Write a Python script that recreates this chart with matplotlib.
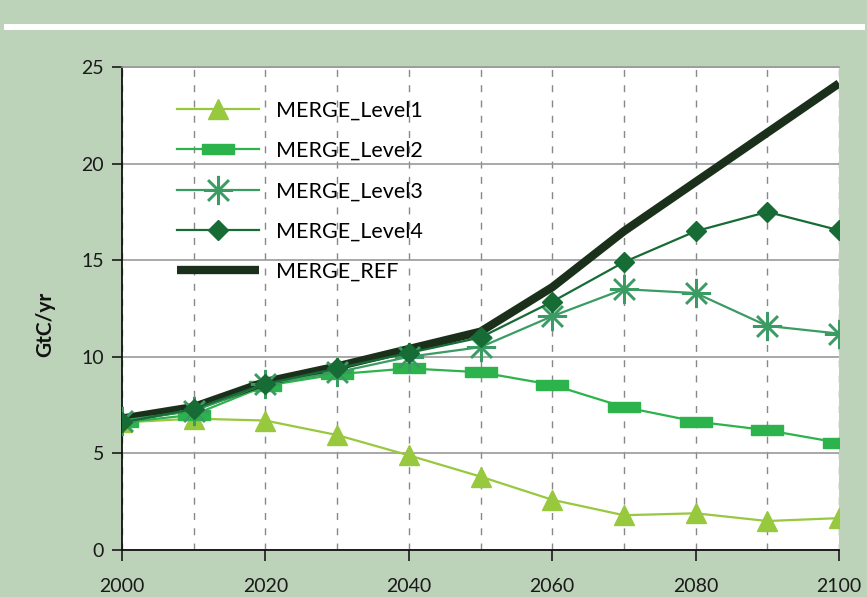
import numpy as np
import matplotlib.pyplot as plt
from matplotlib.ticker import MultipleLocator
from matplotlib.lines import Line2D

plt.rcParams['font.family'] = ['Lato', 'DejaVu Sans']

years = [2000, 2010, 2020, 2030, 2040, 2050, 2060, 2070, 2080, 2090, 2100]
level1 = [6.6, 6.8, 6.7, 5.95, 4.9, 3.8, 2.6, 1.8, 1.9, 1.5, 1.65]
level2 = [6.6, 7.0, 8.5, 9.1, 9.4, 9.2, 8.55, 7.4, 6.65, 6.2, 5.55]
level3 = [6.7, 7.2, 8.6, 9.2, 10.0, 10.5, 12.1, 13.5, 13.3, 11.6, 11.2]
level4 = [6.6, 7.3, 8.6, 9.4, 10.2, 11.0, 12.85, 14.9, 16.5, 17.5, 16.55]
ref = [6.8, 7.4, 8.7, 9.5, 10.4, 11.3, 13.6, 16.5, 19.05, 21.6, 24.15]

bg = '#bcd3b9'
c1 = '#98c83e'
c2 = '#2db34b'
c3 = '#3b9c63'
c4 = '#176b35'
cref = '#1b301b'

# wide flat rectangle for the Level2 markers
rect = [(-1.6, -0.5), (1.6, -0.5), (1.6, 0.5), (-1.6, 0.5), (-1.6, -0.5)]

fig = plt.figure(figsize=(8.67, 5.97), dpi=100, facecolor=bg)
fig.add_artist(Line2D([7/867, 862/867], [0.9553, 0.9553], color='white', lw=4.3,
                      transform=fig.transFigure))

ax = fig.add_axes([122/867, 47/597, 717/867, 483/597])
ax.set_facecolor('white')

l1, = ax.plot(years, level1, color=c1, lw=1.6, marker='^', ms=14, label='MERGE_Level1', zorder=3)
l2, = ax.plot(years, level2, color=c2, lw=1.6, marker=rect, ms=23, label='MERGE_Level2', zorder=3)
lr, = ax.plot(years, ref, color=cref, lw=6, solid_capstyle='butt', label='MERGE_REF', zorder=4)
l3, = ax.plot(years, level3, color=c3, lw=1.6, marker=(8, 2, 0), ms=21, mew=1.8,
              label='MERGE_Level3', zorder=5)
l4, = ax.plot(years, level4, color=c4, lw=1.6, marker='D', ms=10.5, label='MERGE_Level4', zorder=6)

ax.set_xlim(2000, 2100)
ax.set_ylim(0, 25)
ax.xaxis.set_major_locator(MultipleLocator(20))
ax.xaxis.set_minor_locator(MultipleLocator(10))
ax.yaxis.set_major_locator(MultipleLocator(5))

ax.grid(axis='x', which='both', color='#888888', lw=1.0, linestyle=(0, (5, 6)))
ax.grid(axis='y', which='major', color='#999999', lw=1.2)
ax.set_axisbelow(True)

ax.tick_params(axis='x', which='major', direction='out', length=8, width=1.2,
               labelsize=14, pad=12, colors='#1a1a1a')
ax.tick_params(axis='x', which='minor', length=0)
ax.tick_params(axis='y', direction='out', length=7, width=1.2,
               labelsize=14, pad=6, colors='#1a1a1a')

for s in ['left', 'bottom']:
    ax.spines[s].set_color('#111111')
    ax.spines[s].set_linewidth(1.3)
ax.spines['top'].set_color('#999999')
ax.spines['top'].set_linewidth(1.2)
ax.spines['right'].set_visible(False)

fig.text(45/867, 1 - 324/597, 'GtC/yr', rotation=90, ha='center', va='center',
         fontsize=15, fontweight='bold', color='#111111')

ax.legend(handles=[l1, l2, l3, l4, lr], loc='upper left', frameon=False,
          bbox_to_anchor=(0.065, 0.948), fontsize=15.5, handlelength=3.8,
          labelspacing=0.94, handletextpad=0.8, borderaxespad=0)

fig.savefig('out.png', dpi=100, facecolor=bg)
